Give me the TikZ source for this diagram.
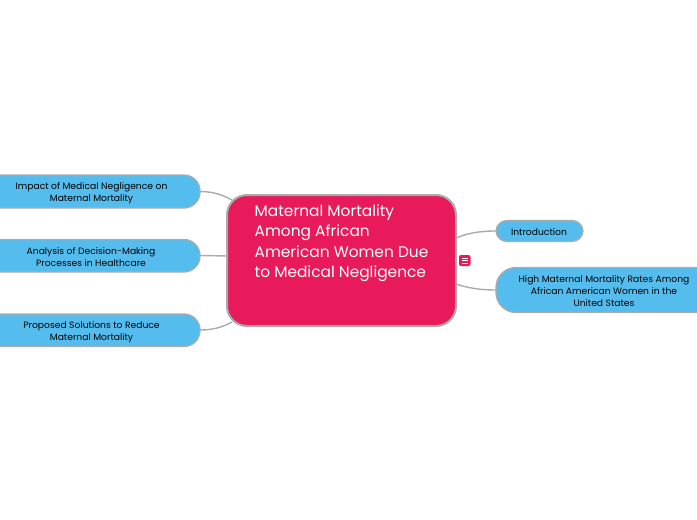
\documentclass[tikz,border=0pt]{standalone}
\usepackage{fontspec}
\setmainfont{Poppins}
\definecolor{pinkc}{HTML}{E81A5C}
\definecolor{bluec}{HTML}{55BDEE}
\definecolor{edgec}{HTML}{ABABAB}
\tikzset{
 x=1pt,y=-1pt,
 topic/.style={draw=edgec,line width=1.3pt,fill=bluec},
 central/.style={draw=edgec,line width=2pt,fill=pinkc},
 lbl/.style={align=center,font=\fontsize{9.2}{12}\selectfont,text=black,inner sep=0pt},
 conn/.style={draw=edgec,line width=1.4pt},
}
\begin{document}
\begin{tikzpicture}
\useasboundingbox (0,0) rectangle (697,520);
\clip (0,0) rectangle (697,520);
% connectors
\coordinate (c1) at (232,200);
\coordinate (c2) at (228,256);
\coordinate (c3) at (232,322);
\coordinate (c4) at (456,238);
\coordinate (c5) at (456,284);
\coordinate (t1) at (200,191.5);
\coordinate (t2) at (200,255.5);
\coordinate (t3) at (200,330);
\coordinate (t4) at (496,231);
\coordinate (t5) at (496,290);
\draw[conn] (t1) .. controls (213,191.5) and (223,195) .. (c1);
\draw[conn] (t2) -- (c2);
\draw[conn] (t3) .. controls (213,330) and (223,327) .. (c3);
\draw[conn] (c4) .. controls (468,233) and (480,231) .. (t4);
\draw[conn] (c5) .. controls (468,288) and (480,290) .. (t5);
% central
\draw[central,rounded corners=20pt] (227,195) rectangle (456,326);
\node[lbl,anchor=north west,align=left,text=white,font=\fontsize{15.4}{20.3}\selectfont] (main) at (254.5,204.5)
 {Maternal Mortality\\Among African\\American Women Due\\to Medical Negligence};
% left topics
\draw[topic,rounded corners=16pt] (-40,175) rectangle (200,208);
\node[lbl] (a) at (91.5,192.7) {Impact of Medical Negligence on\\Maternal Mortality};
\draw[topic,rounded corners=16pt] (-40,239.5) rectangle (200,272);
\node[lbl] (b) at (91,257.2) {Analysis of Decision-Making\\Processes in Healthcare};
\draw[topic,rounded corners=16pt] (-40,314) rectangle (200,346.5);
\node[lbl] (d) at (91.5,331.7) {Proposed Solutions to Reduce\\Maternal Mortality};
% right topics
\draw[topic,rounded corners=11pt] (496,220.5) rectangle (583,241.5);
\node[lbl] (e) at (539,232) {Introduction};
\draw[topic,rounded corners=20pt] (496,267.5) rectangle (740,312.5);
\node[lbl] (f) at (604,291) {High Maternal Mortality Rates Among\\African American Women in the\\United States};
% note icon
\fill[pinkc,rounded corners=2pt] (459,255) rectangle (470.5,266);
\foreach \yy in {258,260.5,263}{\draw[white,line width=.7pt] (461.5,\yy) -- (468,\yy);}
\end{tikzpicture}
\end{document}
